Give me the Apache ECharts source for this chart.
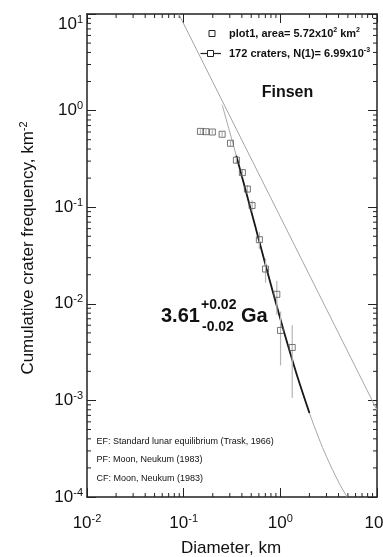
<!DOCTYPE html>
<html>
<head>
<meta charset="utf-8">
<script src="https://cdn.jsdelivr.net/npm/echarts@6/dist/echarts.min.js"></script>
<style>
html,body{margin:0;padding:0;background:#fff;}
#chart{width:383px;height:557px;}
</style>
</head>
<body>
<div id="chart"></div>
<script>
// ---- data ----
const craterD = [0.149, 0.170, 0.198, 0.250, 0.305, 0.351, 0.405, 0.456, 0.510, 0.607, 0.703, 0.920, 1.005, 1.327];
const craterN = [0.609, 0.605, 0.600, 0.569, 0.459, 0.307, 0.228, 0.154, 0.104, 0.0461, 0.0229, 0.01254, 0.0053, 0.00353];
const errLow  = [0.577, 0.573, 0.568, 0.538, 0.431, 0.284, 0.208, 0.138, 0.091, 0.0372, 0.0166, 0.0077, 0.0023, 0.00106];
const errHigh = [0.641, 0.637, 0.632, 0.600, 0.487, 0.330, 0.248, 0.170, 0.117, 0.0550, 0.0292, 0.0172, 0.0083, 0.0060];

// production function curve (grey, full range)
const pfD = [0.25, 0.3, 0.35, 0.4, 0.5, 0.6, 0.7, 0.85, 1.0, 1.2, 1.5, 2.0, 2.5, 3.0, 4.0, 4.9];
const pfN = [1.15, 0.599, 0.342, 0.209, 0.0908, 0.0458, 0.0257, 0.01257, 0.00699, 0.0037, 0.00177, 0.000741, 0.000406, 0.000262, 0.000143, 0.0001];
// fitted segment (black)
const fitD = [0.35, 0.4, 0.5, 0.6, 0.7, 0.85, 1.0, 1.2, 1.5, 2.0];
const fitN = [0.342, 0.209, 0.0908, 0.0458, 0.0257, 0.01257, 0.00699, 0.0037, 0.00177, 0.000741];
// equilibrium line
const eqD = [0.089, 10];
const eqN = [10, 0.000794];

const xTickExp = [-2, -1, 0, 1];
const yTickExp = [-4, -3, -2, -1, 0, 1];
const minorMantissa = [2, 3, 4, 5, 6, 7, 8, 9];

const FONT = "'Liberation Sans', Arial, Helvetica, sans-serif";
const zip = (a, b) => a.map((v, i) => [v, b[i]]);

const xMinor = [];
xTickExp.slice(0, -1).forEach(e => minorMantissa.forEach(m => xMinor.push(m * Math.pow(10, e))));
const yMinor = [];
yTickExp.slice(0, -1).forEach(e => minorMantissa.forEach(m => yMinor.push(m * Math.pow(10, e))));

function expOf(v) { return Math.round(Math.log10(v)); }

const labelRich = {
  b: { fontFamily: FONT, fontSize: 17, color: '#111', lineHeight: 20, verticalAlign: 'middle' },
  s: { fontFamily: FONT, fontSize: 11, color: '#111', lineHeight: 13, verticalAlign: 'top' },
  gap: { fontFamily: FONT, fontSize: 10, lineHeight: 20 }
};

const axisLineStyle = { color: '#222', width: 1.5 };
const tickStyle = { color: '#222', width: 1 };

function minorTickRender(dim) {
  return function (params, api) {
    const cs = params.coordSys;
    const v = api.value(dim === 'x' ? 0 : 1);
    const st = { stroke: '#222', lineWidth: 1 };
    if (dim === 'x') {
      const px = api.coord([v, 1])[0];
      return { type: 'group', children: [
        { type: 'line', shape: { x1: px, y1: cs.y + cs.height, x2: px, y2: cs.y + cs.height - 4 }, style: st },
        { type: 'line', shape: { x1: px, y1: cs.y, x2: px, y2: cs.y + 4 }, style: st }
      ]};
    } else {
      const py = api.coord([1, v])[1];
      return { type: 'group', children: [
        { type: 'line', shape: { x1: cs.x, y1: py, x2: cs.x + 4, y2: py }, style: st },
        { type: 'line', shape: { x1: cs.x + cs.width, y1: py, x2: cs.x + cs.width - 4, y2: py }, style: st }
      ]};
    }
  };
}

const chart = echarts.init(document.getElementById('chart'), null, { renderer: 'canvas' });

const txt = (x, y, text, font, extra) => ({
  type: 'text', x: x, y: y, silent: true,
  style: Object.assign({ text: text, font: font, fill: '#111', textAlign: 'left', align: 'left', textVerticalAlign: 'middle', verticalAlign: 'middle' }, extra || {})
});

const legendRich = {
  a: { fontFamily: FONT, fontWeight: 'bold', fontSize: 11, lineHeight: 14, verticalAlign: 'middle' },
  s: { fontFamily: FONT, fontWeight: 'bold', fontSize: 7, lineHeight: 9, verticalAlign: 'top' }
};

const option = {
  backgroundColor: '#fff',
  animation: false,
  grid: { left: 87, right: 6, top: 14, bottom: 60, containLabel: false, outerBoundsMode: 'none' },
  xAxis: [
    {
      type: 'log', logBase: 10, min: 0.01, max: 10, position: 'bottom',
      axisLine: { show: true, onZero: false, lineStyle: axisLineStyle },
      axisTick: { show: true, inside: true, length: 9, lineStyle: tickStyle },
      splitLine: { show: false },
      axisLabel: {
        margin: 16, rich: labelRich, hideOverlap: false,
        formatter: v => '{b|10}{s|' + expOf(v) + '}'
      }
    },
    {
      type: 'log', logBase: 10, min: 0.01, max: 10, position: 'top',
      axisLine: { show: true, onZero: false, lineStyle: axisLineStyle },
      axisTick: { show: true, inside: true, length: 9, lineStyle: tickStyle },
      splitLine: { show: false }, axisLabel: { show: false }
    }
  ],
  yAxis: [
    {
      type: 'log', logBase: 10, min: 0.0001, max: 10, position: 'left',
      axisLine: { show: true, onZero: false, lineStyle: axisLineStyle },
      axisTick: { show: true, inside: true, length: 9, lineStyle: tickStyle },
      splitLine: { show: false },
      axisLabel: {
        margin: 4, rich: labelRich, hideOverlap: false,
        formatter: v => {
          const e = expOf(v);
          return e === 1 ? '{gap| }\n{b|10}{s|1}' : '{b|10}{s|' + e + '}';
        }
      }
    },
    {
      type: 'log', logBase: 10, min: 0.0001, max: 10, position: 'right',
      axisLine: { show: true, onZero: false, lineStyle: axisLineStyle },
      axisTick: { show: true, inside: true, length: 9, lineStyle: tickStyle },
      splitLine: { show: false }, axisLabel: { show: false }
    }
  ],
  series: [
    { type: 'custom', renderItem: minorTickRender('x'), data: xMinor.map(v => [v, 1]), encode: { x: 0, y: 1 }, silent: true, z: 1 },
    { type: 'custom', renderItem: minorTickRender('y'), data: yMinor.map(v => [1, v]), encode: { x: 0, y: 1 }, silent: true, z: 1 },
    { name: 'EF', type: 'line', data: zip(eqD, eqN), symbol: 'none', lineStyle: { color: '#a6a6a6', width: 1 }, z: 2 },
    { name: 'PF', type: 'line', data: zip(pfD, pfN), symbol: 'none', smooth: 0.3, lineStyle: { color: '#a6a6a6', width: 1 }, z: 2 },
    { name: 'fit', type: 'line', data: zip(fitD, fitN), symbol: 'none', smooth: 0.3, lineStyle: { color: '#1a1a1a', width: 1.8 }, z: 3 },
    {
      name: 'err', type: 'custom', silent: true, z: 4,
      data: craterD.map((d, i) => [d, errLow[i], errHigh[i]]),
      encode: { x: 0, y: [1, 2] },
      renderItem: (params, api) => {
        const p1 = api.coord([api.value(0), api.value(1)]);
        const p2 = api.coord([api.value(0), api.value(2)]);
        return { type: 'line', shape: { x1: p1[0], y1: p1[1], x2: p2[0], y2: p2[1] }, style: { stroke: '#b5b5b5', lineWidth: 1.2 } };
      }
    },
    {
      name: 'plot1', type: 'scatter', data: zip(craterD, craterN), symbol: 'rect', symbolSize: 6,
      itemStyle: { color: 'rgba(0,0,0,0)', borderColor: '#555', borderWidth: 1 }, z: 5
    }
  ],
  graphic: [
    // legend
    { type: 'rect', silent: true, shape: { x: 209, y: 30.5, width: 6, height: 6 }, style: { fill: 'none', stroke: '#222', lineWidth: 1 } },
    txt(229, 33.5, '{a|plot1, area= 5.72x10}{s|2}{a| km}{s|2}', null, { rich: legendRich }),
    { type: 'line', silent: true, shape: { x1: 200.5, y1: 53.5, x2: 221, y2: 53.5 }, style: { stroke: '#222', lineWidth: 1.2 } },
    { type: 'rect', silent: true, shape: { x: 207.5, y: 50.5, width: 6, height: 6 }, style: { fill: '#fff', stroke: '#222', lineWidth: 1 } },
    txt(229, 54, '{a|172 craters, N(1)= 6.99x10}{s|-3}', null, { rich: legendRich }),
    // region name
    txt(287.5, 93, 'Finsen', 'bold 16px ' + FONT, { textAlign: 'center', align: 'center' }),
    // model age
    txt(161, 316.3, '3.61', 'bold 20px ' + FONT),
    txt(201, 305, '+0.02', 'bold 14px ' + FONT),
    txt(202, 327, '-0.02', 'bold 14px ' + FONT),
    txt(241, 316.3, 'Ga', 'bold 20px ' + FONT),
    // notes
    txt(96.5, 441.7, 'EF: Standard lunar equilibrium (Trask, 1966)', '9px ' + FONT),
    txt(96.5, 460, 'PF: Moon, Neukum (1983)', '9px ' + FONT),
    txt(96.5, 478.3, 'CF: Moon, Neukum (1983)', '9px ' + FONT),
    // axis titles
    txt(231, 548, 'Diameter, km', '17px ' + FONT, { textAlign: 'center', align: 'center' }),
    {
      type: 'text', x: 28, y: 248, rotation: Math.PI / 2, silent: true,
      style: {
        text: '{a|Cumulative crater frequency, km}{s|-2}',
        textAlign: 'center', align: 'center', textVerticalAlign: 'middle', verticalAlign: 'middle',
        rich: { a: { fontFamily: FONT, fontSize: 17, lineHeight: 20, fill: '#111', color: '#111', verticalAlign: 'middle' },
                s: { fontFamily: FONT, fontSize: 11, lineHeight: 12, fill: '#111', color: '#111', verticalAlign: 'top' } }
      }
    }
  ]
};
chart.setOption(option);
</script>
</body>
</html>
